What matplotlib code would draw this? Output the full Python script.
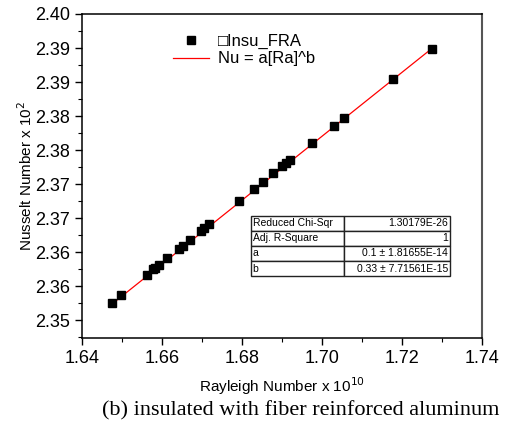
import numpy as np
import matplotlib.pyplot as plt
from matplotlib.ticker import FixedLocator, MultipleLocator

plt.rcParams['font.family'] = ['Liberation Sans', 'DejaVu Sans']

# data (Ra x 1e10, Nu x 1e2)
ra = [1.6476, 1.6499, 1.6562, 1.6578, 1.6583, 1.6593, 1.6614, 1.6643, 1.6652,
      1.6670, 1.6697, 1.6705, 1.6718, 1.6792, 1.6830, 1.6853, 1.6878, 1.6901,
      1.6911, 1.6921, 1.6976, 1.7031, 1.7055, 1.7177, 1.7274]
nu = [2.3526, 2.3537, 2.3567, 2.3575, 2.3577, 2.3581, 2.3592, 2.3605, 2.3609,
      2.3618, 2.3631, 2.3635, 2.3641, 2.3675, 2.3693, 2.3703, 2.3716, 2.3727,
      2.3731, 2.3735, 2.3761, 2.3786, 2.3797, 2.3854, 2.3898]
fit_ra = [1.6476, 1.7274]
fit_nu = [2.3524, 2.3899]

y_ticks = [2.350, 2.355, 2.360, 2.365, 2.370, 2.375, 2.380, 2.385, 2.390, 2.395]
y_labels = ['2.35', '2.36', '2.36', '2.37', '2.37', '2.38', '2.38', '2.39', '2.39', '2.40']
x_ticks = [1.64, 1.66, 1.68, 1.70, 1.72, 1.74]

table_rows = [['Reduced Chi-Sqr', '1.30179E-26'],
              ['Adj. R-Square', '1'],
              ['a', '0.1 \u00b1 1.81655E-14'],
              ['b', '0.33 \u00b1 7.71561E-15']]

fig = plt.figure(figsize=(5.06, 4.29), dpi=100)
ax = fig.add_axes([0.1615, 0.2121, 0.7911, 0.7553])

ax.plot(fit_ra, fit_nu, color='#ff0000', lw=0.9, label='Nu = a[Ra]^b', zorder=2)
ax.plot(ra, nu, 's', color='black', ms=5.6, label='\u25a1Insu_FRA', zorder=3)

ax.set_xlim(1.64, 1.74)
ax.set_ylim(2.3474, 2.395)
ax.xaxis.set_major_locator(FixedLocator(x_ticks))
ax.set_xticklabels(['%.2f' % v for v in x_ticks])
ax.xaxis.set_minor_locator(MultipleLocator(0.01))
ax.yaxis.set_major_locator(FixedLocator(y_ticks))
ax.set_yticklabels(y_labels)
ax.yaxis.set_minor_locator(MultipleLocator(0.0025))
ax.tick_params(which='major', direction='out', length=5, width=1, labelsize=13, top=False, right=False)
ax.tick_params(which='minor', direction='out', length=3, width=0.8, top=False, right=False)
for s in ax.spines.values():
    s.set_linewidth(1.1)
ax.spines['right'].set_color('#555555')
ax.spines['right'].set_linewidth(1.5)

ax.set_xlabel('Rayleigh Number x 10$^{10}$', fontsize=11, labelpad=6)
ax.set_ylabel('Nusselt Number x 10$^{2}$', fontsize=11, labelpad=0)

h, l = ax.get_legend_handles_labels()
ax.legend(h[::-1], l[::-1], loc='upper left', bbox_to_anchor=(0.19, 0.985), frameon=False,
          fontsize=12, handlelength=2.2, handletextpad=0.5, labelspacing=0.15)

tb = ax.table(cellText=table_rows, colWidths=[0.47, 0.53],
              bbox=[0.422, 0.191, 0.498, 0.187])
tb.auto_set_font_size(False)
for (r, c), cell in tb.get_celld().items():
    cell.set_fontsize(7.5)
    cell.set_linewidth(1.0)
    cell.set_edgecolor('#222222')
    cell.get_text().set_ha('left' if c == 0 else 'right')
    cell.PAD = 0.02

fig.text(0.595, 0.043, '(b) insulated with fiber reinforced aluminum',
         family='Liberation Serif', fontsize=16, ha='center', va='center')

fig.savefig('out.png', dpi=100)
